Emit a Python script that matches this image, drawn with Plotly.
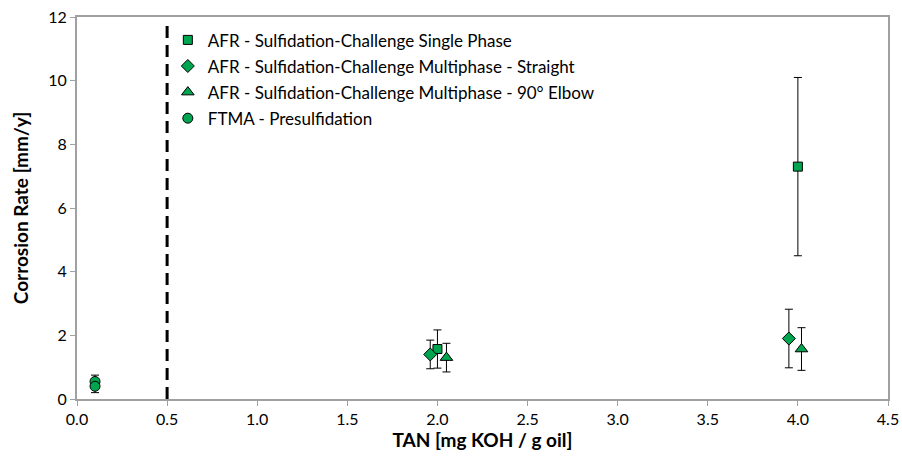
import plotly.graph_objects as go

sp_x = [2.0, 4.0]
sp_y = [1.57, 7.3]
sp_err = [0.6, 2.8]

ms_x = [1.96, 3.95]
ms_y = [1.4, 1.9]
ms_err = [0.45, 0.92]

me_x = [2.05, 4.02]
me_y = [1.3, 1.57]
me_err = [0.45, 0.67]

ft_x = [0.1, 0.1]
ft_y = [0.55, 0.4]
ft_err = [0.2, 0.2]

names = [
    "AFR - Sulfidation-Challenge Single Phase",
    "AFR - Sulfidation-Challenge Multiphase - Straight",
    "AFR - Sulfidation-Challenge Multiphase - 90° Elbow",
    "FTMA - Presulfidation",
]

GREEN = "#00A550"
FONT = "Lato, 'Open Sans', sans-serif"

fig = go.Figure()

def add(x, y, e, name, symbol, size, grp):
    fig.add_trace(go.Scatter(
        x=x, y=y, mode="markers", name=name, legendgroup=grp,
        marker=dict(symbol=symbol, size=size, color=GREEN, line=dict(color="black", width=1)),
        error_y=dict(type="data", array=e, color="black", thickness=1, width=4),
    ))

add(sp_x, sp_y, sp_err, names[0], "square", 9, "a")
add(ms_x, ms_y, ms_err, names[1], "diamond", 10, "b")
add(me_x, me_y, me_err, names[2], "triangle-up", 11, "c")
add(ft_x, ft_y, ft_err, names[3], "circle", 10, "d")

fig.add_shape(type="line", x0=0.5, x1=0.5, y0=0, y1=11.8, xref="x", yref="y",
              line=dict(color="black", width=3, dash="12px,7px"))

fig.update_layout(
    width=902, height=465,
    margin=dict(l=77, r=14, t=17, b=66),
    plot_bgcolor="white", paper_bgcolor="white",
    font=dict(family=FONT, size=16, color="black"),
    showlegend=True,
    legend=dict(x=0.112, y=0.986, xanchor="left", yanchor="top",
                bgcolor="rgba(0,0,0,0)", font=dict(size=17), tracegroupgap=1,
                itemwidth=30),
    xaxis=dict(range=[0, 4.5], dtick=0.5, tickformat=".1f", showgrid=False, zeroline=False,
               showline=True, linecolor="#A0A0A0", linewidth=2, mirror=True, automargin=False,
               ticks="outside", tickcolor="#A0A0A0", ticklen=5,
               title=dict(text="<b>TAN [mg KOH / g oil]</b>", font=dict(size=19), standoff=4)),
    yaxis=dict(range=[0, 12], dtick=2, showgrid=False, zeroline=False,
               showline=True, linecolor="#A0A0A0", linewidth=2, mirror=True, automargin=False,
               ticks="outside", tickcolor="#A0A0A0", ticklen=5,
               title=dict(text="<b>Corrosion Rate [mm/y]</b>", font=dict(size=19), standoff=15)),
)

fig.write_html("out.html", config={"displayModeBar": False},
               post_script="document.body.style.margin='0';document.body.style.overflow='hidden';")
